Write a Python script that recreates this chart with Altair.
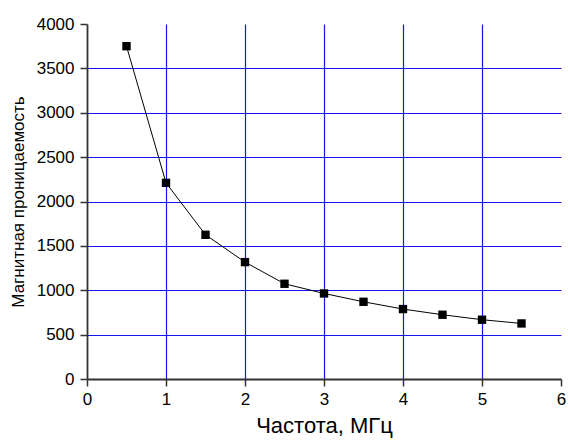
import altair as alt
import pandas as pd

freq = [0.5, 1.0, 1.5, 2.0, 2.5, 3.0, 3.5, 4.0, 4.5, 5.0, 5.5]
perm = [3750, 2210, 1625, 1317, 1073, 964, 870, 788, 724, 668, 626]

x_ticks = [0, 0.5, 1, 1.5, 2, 2.5, 3, 3.5, 4, 4.5, 5, 5.5, 6]
y_ticks = [0, 250, 500, 750, 1000, 1250, 1500, 1750, 2000, 2250, 2500, 2750,
           3000, 3250, 3500, 3750, 4000]

df = pd.DataFrame({"f": freq, "mu": perm})

FONT = "Liberation Sans"
xscale = alt.Scale(domain=[0, 6], nice=False, zero=False)
yscale = alt.Scale(domain=[0, 4000], nice=False)

xaxis = alt.Axis(
    values=x_ticks, title="Частота, МГц", labelFont=FONT, titleFont=FONT,
    labelFontSize=17, titleFontSize=22, titleFontWeight="normal",
    labelColor="black", titleColor="black", tickColor="#333", domainColor="#333",
    domainWidth=1.8, tickWidth=1.5, labelFlush=False, labelOverlap=False,
    tickSize=alt.condition("datum.value % 1 === 0", alt.value(7), alt.value(4)),
    labelExpr="datum.value % 1 === 0 ? datum.label : ''",
    labelPadding=5, titlePadding=8, format="d",
    grid=True, gridColor="#1414f0", gridWidth=1.2,
    gridOpacity=alt.condition("datum.value % 1 === 0 && datum.value > 0 && datum.value < 6",
                              alt.value(1), alt.value(0)),
)
yaxis = alt.Axis(
    values=y_ticks, title="Магнитная проницаемость", labelFont=FONT, titleFont=FONT,
    labelFontSize=17, titleFontSize=17, titleFontWeight="normal",
    labelColor="black", titleColor="black", tickColor="#333", domainColor="#333",
    domainWidth=1.8, tickWidth=1.5, labelFlush=False, labelOverlap=False,
    tickSize=alt.condition("datum.value % 500 === 0", alt.value(7), alt.value(4)),
    labelExpr="datum.value % 500 === 0 ? datum.label : ''",
    labelPadding=6, titlePadding=9, format="d",
    grid=True, gridColor="#1414f0", gridWidth=1.2,
    gridOpacity=alt.condition("datum.value % 500 === 0 && datum.value > 0 && datum.value < 4000",
                              alt.value(1), alt.value(0)),
)

line = alt.Chart(df).mark_line(color="black", strokeWidth=1).encode(
    x=alt.X("f:Q", scale=xscale, axis=xaxis),
    y=alt.Y("mu:Q", scale=yscale, axis=yaxis),
)
pts = alt.Chart(df).mark_square(color="black", opacity=1, size=70).encode(
    x=alt.X("f:Q", scale=xscale),
    y=alt.Y("mu:Q", scale=yscale),
)

chart = alt.layer(line, pts).properties(
    width=474, height=355,
    autosize=alt.AutoSizeParams(type="none"),
    padding={"left": 87, "top": 24, "right": 7, "bottom": 61},
    background="white",
).configure_view(stroke=None)

chart.save("out.html", embed_options={"renderer": "svg", "actions": False})
